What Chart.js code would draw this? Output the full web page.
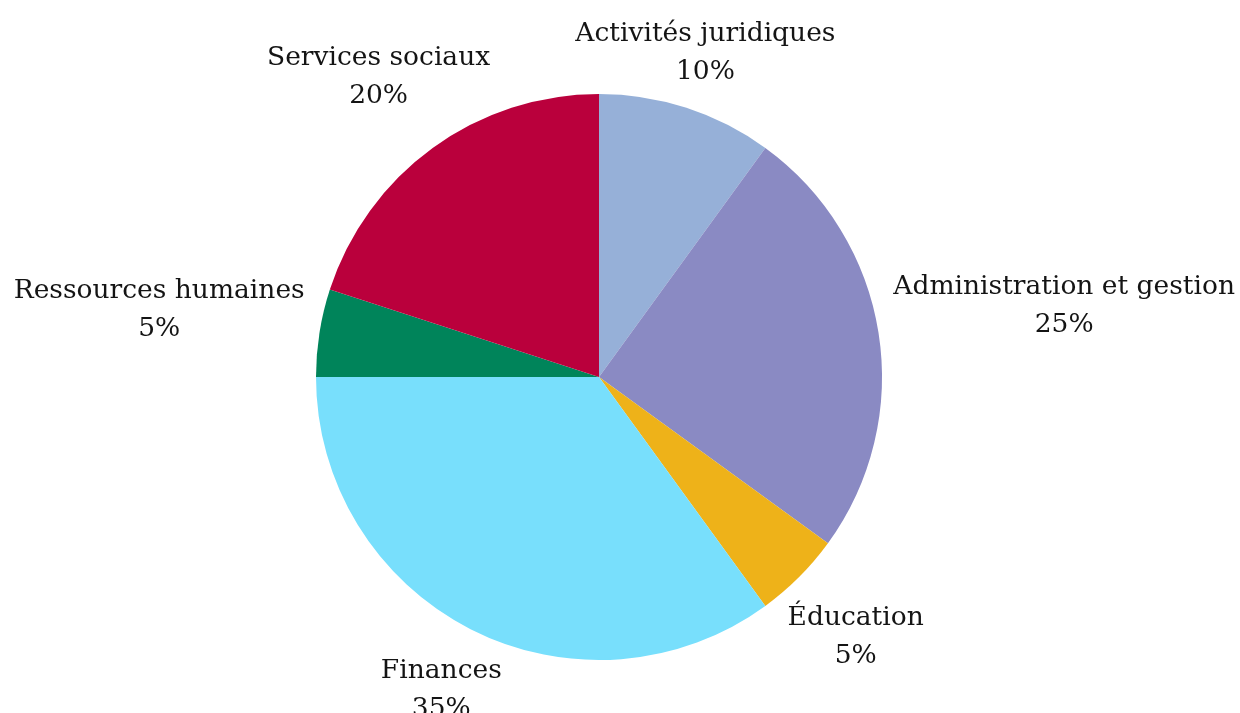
<!DOCTYPE html>
<html>
<head>
<meta charset="utf-8">
<script src="https://cdn.jsdelivr.net/npm/chart.js"></script>
<style>
  html, body { margin: 0; padding: 0; background: #ffffff; }
  #wrap { width: 1240px; height: 713px; position: relative; }
</style>
</head>
<body>
<div id="wrap"><canvas id="pie"></canvas></div>
<script>
// données du graphique
const categories = ['Activités juridiques', 'Administration et gestion', 'Éducation', 'Finances', 'Ressources humaines', 'Services sociaux'];
const values = [10, 25, 5, 35, 5, 20];
const colors = ['#96B0D8', '#8A8AC3', '#EEB219', '#78DFFC', '#00845A', '#BA003C'];

const FONT = '26.5px "DejaVu Serif", serif';
const LINE_H = 38;

// étiquettes à l'extérieur, centrées sur l'angle médian de chaque part
const outsideLabels = {
  id: 'outsideLabels',
  afterDatasetsDraw(chart) {
    const ctx = chart.ctx;
    const meta = chart.getDatasetMeta(0);
    const total = values.reduce((a, b) => a + b, 0);
    ctx.save();
    ctx.font = FONT;
    ctx.fillStyle = '#141414';
    ctx.textAlign = 'center';
    ctx.textBaseline = 'alphabetic';
    meta.data.forEach((arc, i) => {
      const lines = [categories[i], Math.round(values[i] / total * 100) + '%'];
      const hw = Math.max(...lines.map(l => ctx.measureText(l).width)) / 2;
      const mid = (arc.startAngle + arc.endAngle) / 2;
      const dx = Math.cos(mid), dy = Math.sin(mid);
      const R = arc.outerRadius;
      // distance le long du rayon jusqu'au bord de la boîte
      const hh = 44;
      const t1 = R + 15 + Math.min(hw / Math.max(Math.abs(dx), 1e-6), hh / Math.max(Math.abs(dy), 1e-6));
      // et pas de chevauchement avec le disque
      const hh2 = 27;
      let t2 = R;
      for (; t2 < R + 400; t2 += 0.5) {
        const cx = arc.x + dx * t2, cy = arc.y + dy * t2;
        const nx = Math.max(cx - hw, Math.min(arc.x, cx + hw));
        const ny = Math.max(cy - hh2, Math.min(arc.y, cy + hh2));
        if (Math.hypot(nx - arc.x, ny - arc.y) >= R + 14) break;
      }
      const t = Math.max(t1, t2);
      const cx = arc.x + dx * t, cy = arc.y + dy * t;
      ctx.fillText(lines[0], cx, cy - 9);
      ctx.fillText(lines[1], cx, cy - 9 + LINE_H);
    });
    ctx.restore();
  }
};

new Chart(document.getElementById('pie'), {
  type: 'pie',
  data: {
    labels: categories,
    datasets: [{
      data: values,
      backgroundColor: colors,
      borderWidth: 0,
      hoverOffset: 0,
      offset: 0
    }]
  },
  options: {
    responsive: true,
    maintainAspectRatio: false,
    animation: false,
    layout: {
      padding: { top: 94, bottom: 53, left: 100, right: 142 }
    },
    plugins: {
      legend: { display: false },
      tooltip: { enabled: false }
    }
  },
  plugins: [outsideLabels]
});
</script>
</body>
</html>
